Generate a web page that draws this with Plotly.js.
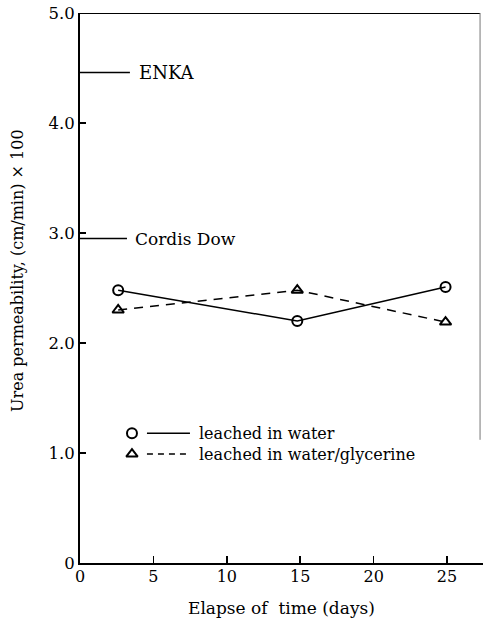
<!DOCTYPE html>
<html>
<head>
<meta charset="utf-8">
<script src="https://cdn.plot.ly/plotly-3.0.1.min.js"></script>
<style>html,body{margin:0;padding:0;background:#fff;}#chart{width:483px;height:620px;}</style>
</head>
<body>
<div id="chart"></div>
<script>
// ---- data ----
var days = [2.6, 14.8, 24.9];
var water = [2.48, 2.20, 2.51];
var waterGlycerine = [2.30, 2.48, 2.19];
var seriesNames = ['leached in water', 'leached in water/glycerine'];
var refNames = ['ENKA', 'Cordis Dow'];
var refValues = [4.46, 2.95];
var yTickVals = [0, 1, 2, 3, 4, 5];
var yTickText = ['0', '1.0', '2.0', '3.0', '4.0', '5.0'];
var xTickVals = [0, 5, 10, 15, 20, 25];
var xTickText = ['0', '5', '10', '15', '20', '25'];

// ---- layout constants ----
var FONT = 'DejaVu Serif, Liberation Serif, serif';
var refLineEnd = [3.4, 3.2];
var refLabelX = [3.9, 3.6];
var refFontSize = [18, 17];
var legX = 3.54, legLine0 = 4.56, legLine1 = 7.49, legText = 7.97;
var legY = [1.18, 0.99];
var XMAX = 27.45, BORDER_X = 27.25;

var traces = [
  {x: days, y: water, type: 'scatter', mode: 'lines+markers',
   line: {color: '#000', width: 1.5},
   marker: {symbol: 'circle-open', size: 10, color: '#000', line: {width: 2}},
   showlegend: false},
  {x: days, y: waterGlycerine, type: 'scatter', mode: 'lines+markers',
   line: {color: '#000', width: 1.5, dash: '9px,7px'},
   marker: {symbol: 'triangle-up-open', size: 10, color: '#000', line: {width: 2}},
   showlegend: false},
  // legend markers
  {x: [legX], y: [legY[0]], type: 'scatter', mode: 'markers',
   marker: {symbol: 'circle-open', size: 10, color: '#000', line: {width: 2}}, showlegend: false},
  {x: [legX], y: [legY[1]], type: 'scatter', mode: 'markers',
   marker: {symbol: 'triangle-up-open', size: 10, color: '#000', line: {width: 2}}, showlegend: false}
];
refValues.forEach(function (v, i) {
  traces.push({x: [0, refLineEnd[i]], y: [v, v], type: 'scatter', mode: 'lines',
    line: {color: '#000', width: 1.5}, showlegend: false});
});

var annotations = [];
refNames.forEach(function (n, i) {
  annotations.push({x: refLabelX[i], y: refValues[i], xref: 'x', yref: 'y', text: n,
    showarrow: false, xanchor: 'left', yanchor: 'middle', font: {family: FONT, size: refFontSize[i], color: '#000'}});
});
seriesNames.forEach(function (n, i) {
  annotations.push({x: legText, y: legY[i], xref: 'x', yref: 'y', text: n,
    showarrow: false, xanchor: 'left', yanchor: 'middle', font: {family: FONT, size: 16, color: '#000'}});
});
annotations.push({x: 0.5, y: 0, xref: 'paper', yref: 'paper', yshift: -45,
  text: 'Elapse of\u00a0\u00a0time\u00a0(days)', showarrow: false, xanchor: 'center', yanchor: 'middle',
  font: {family: FONT, size: 17, color: '#000'}});
annotations.push({x: 0, y: 0.531, xref: 'paper', yref: 'paper', xshift: -62,
  text: 'Urea permeability, (cm/min) \u00d7 100', textangle: -90, showarrow: false,
  xanchor: 'center', yanchor: 'middle', font: {family: FONT, size: 16, color: '#000'}});

var shapes = [
  {type: 'line', xref: 'x', yref: 'y', x0: legLine0, x1: legLine1, y0: legY[0], y1: legY[0],
   line: {color: '#000', width: 1.5}},
  {type: 'line', xref: 'x', yref: 'y', x0: legLine0, x1: legLine1, y0: legY[1], y1: legY[1],
   line: {color: '#000', width: 1.5, dash: '6px,5px'}},
  {type: 'line', xref: 'x', yref: 'y', x0: 0, x1: BORDER_X, y0: 5, y1: 5,
   line: {color: '#000', width: 2}},
  {type: 'line', xref: 'x', yref: 'y', x0: BORDER_X, x1: BORDER_X, y0: 1.12, y1: 5,
   line: {color: '#777', width: 1}}
];

var layout = {
  width: 483, height: 620,
  margin: {l: 80, r: 0, t: 13, b: 57},
  paper_bgcolor: '#fff', plot_bgcolor: '#fff',
  font: {family: FONT, color: '#000'},
  showlegend: false,
  xaxis: {range: [0, XMAX], tickvals: xTickVals, ticktext: xTickText,
    ticks: 'inside', ticklen: 7, tickwidth: 1.5, tickcolor: '#000', ticklabelstandoff: -2,
    showline: true, linewidth: 2, linecolor: '#000', showgrid: false, zeroline: false,
    tickfont: {family: FONT, size: 16, color: '#000'}},
  yaxis: {range: [0, 5], tickvals: yTickVals, ticktext: yTickText,
    ticks: 'inside', ticklen: 6, tickwidth: 1.5, tickcolor: '#000',
    showline: true, linewidth: 2, linecolor: '#000', showgrid: false, zeroline: false,
    tickfont: {family: FONT, size: 16.5, color: '#000'}},
  annotations: annotations,
  shapes: shapes
};

Plotly.newPlot('chart', traces, layout, {staticPlot: true, displayModeBar: false});
</script>
</body>
</html>
